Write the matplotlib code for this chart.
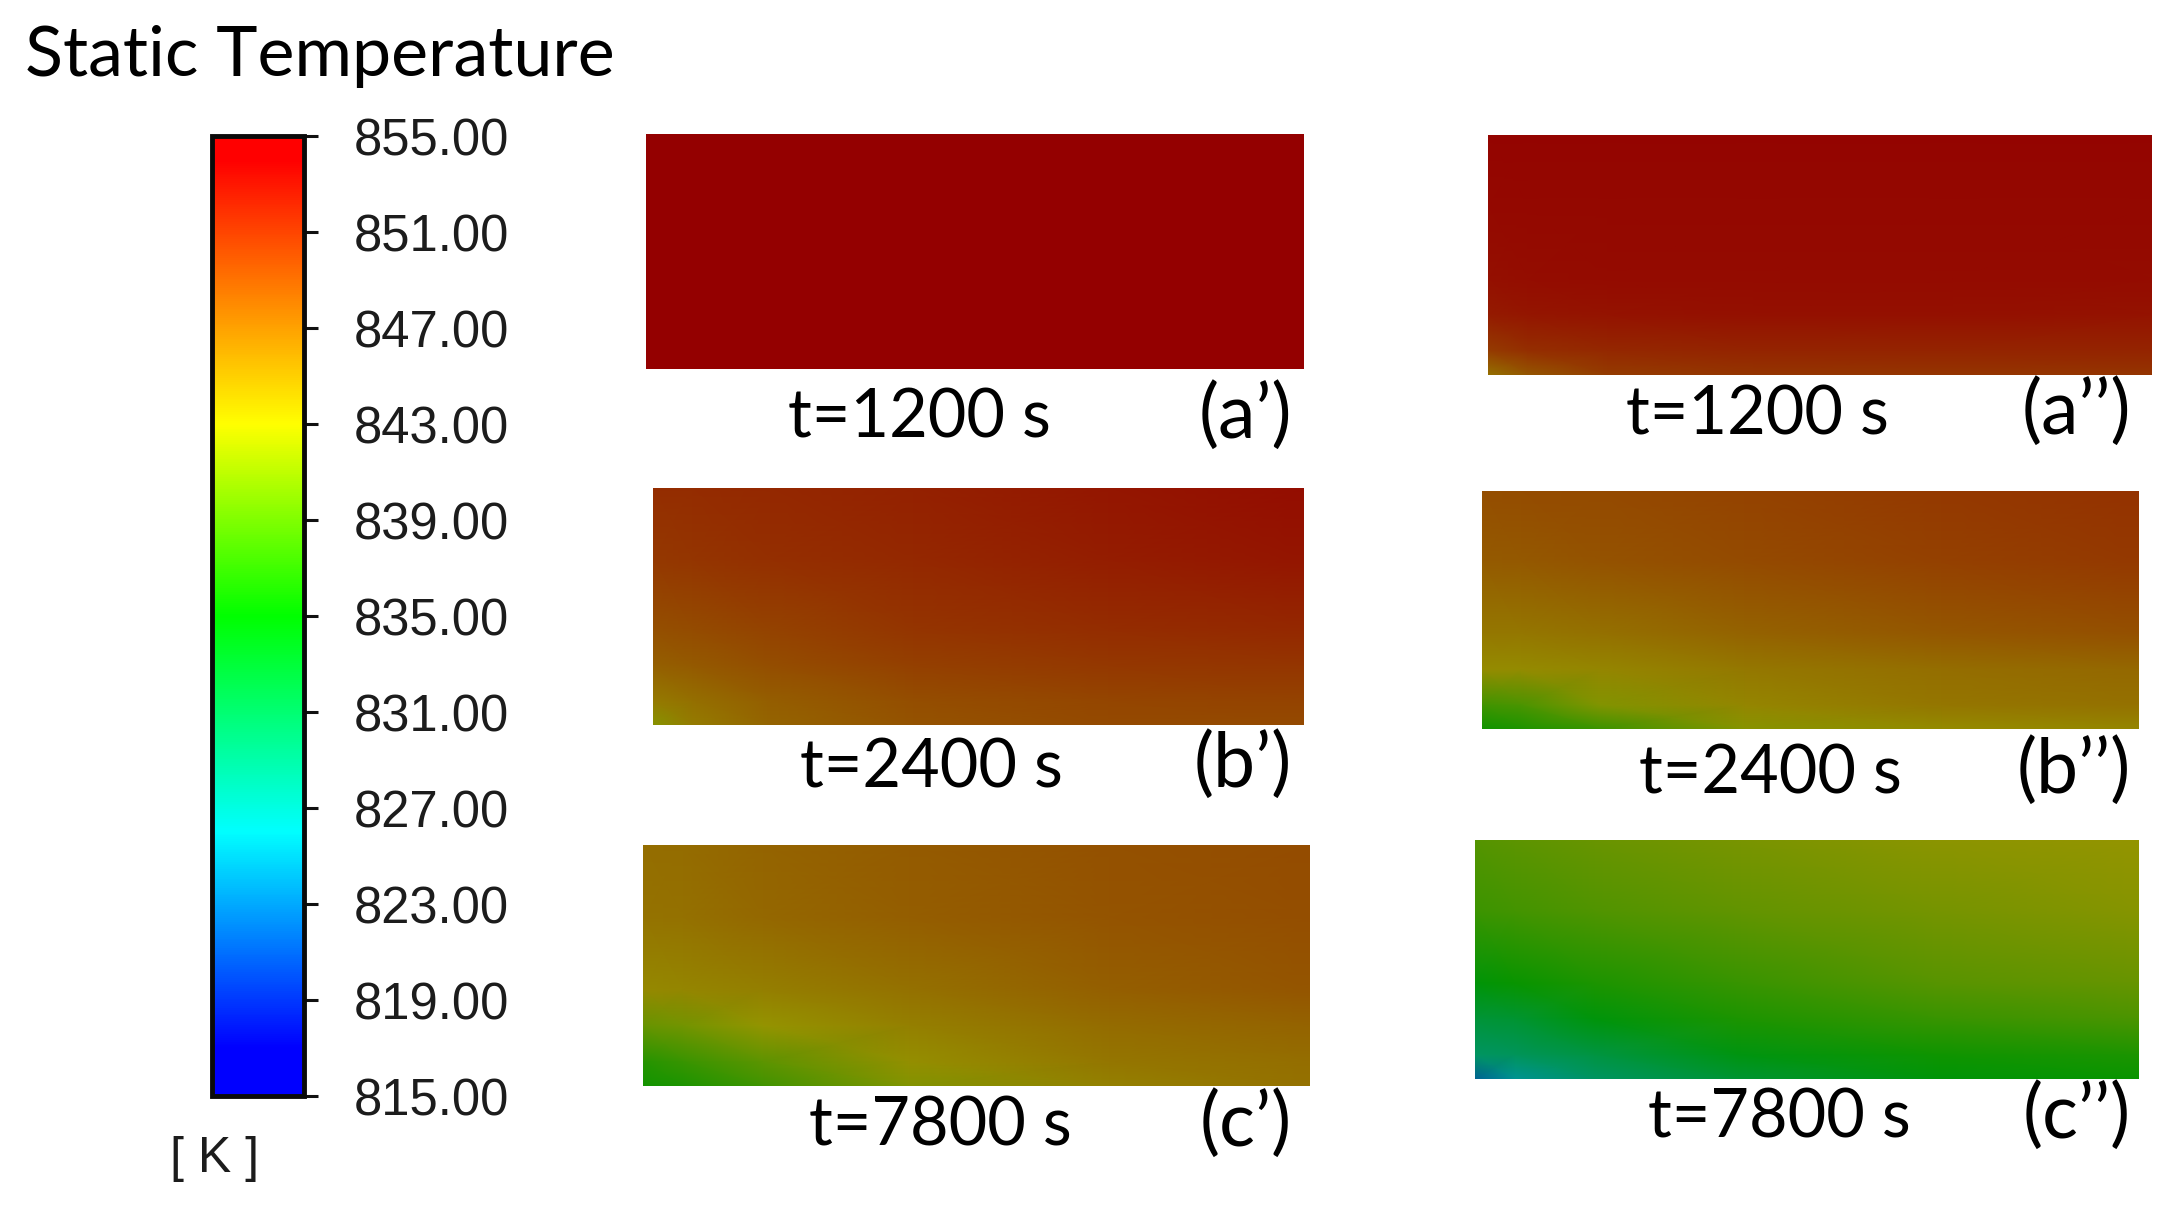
import numpy as np
import matplotlib
matplotlib.use("Agg")
import matplotlib.pyplot as plt
from matplotlib.colors import LinearSegmentedColormap, Normalize
from matplotlib.cm import ScalarMappable

W, H = 2178, 1213
T_MIN, T_MAX = 815.0, 855.0
TICKS = [855, 851, 847, 843, 839, 835, 831, 827, 823, 819, 815]

# control locations in each contour (fraction of width / height above the bottom edge)
X_FRAC = [0.0, 0.06, 0.18, 0.4, 0.7, 1.0]
Y_FRAC = [1.0, 0.7, 0.4, 0.25, 0.1, 0.0]

a1 = [[854.0, 854.0, 854.0, 854.0, 854.0, 854.0],
      [854.0, 854.0, 854.0, 854.0, 854.0, 854.0],
      [854.0, 854.0, 854.0, 854.0, 854.0, 854.0],
      [854.0, 854.0, 854.0, 854.0, 854.0, 854.0],
      [854.0, 854.0, 854.0, 854.0, 854.0, 854.0],
      [854.0, 854.0, 854.0, 854.0, 854.0, 854.0]]
a2 = [[853.6, 853.6, 853.6, 853.6, 853.6, 853.6],
      [853.3, 853.4, 853.4, 853.4, 853.4, 853.4],
      [852.8, 853.0, 853.2, 853.2, 853.2, 853.1],
      [852.0, 852.3, 852.5, 852.8, 852.8, 852.5],
      [849.5, 850.5, 851.0, 851.3, 851.3, 851.3],
      [845.5, 847.5, 849.5, 850.0, 850.0, 850.0]]
b1 = [[850.6, 850.7, 851.0, 851.5, 852.3, 853.0],
      [849.8, 850.0, 850.5, 851.0, 851.8, 852.4],
      [848.0, 848.3, 849.0, 850.0, 850.6, 851.0],
      [846.8, 847.3, 848.2, 849.2, 849.8, 850.0],
      [844.8, 845.7, 847.0, 848.2, 848.8, 849.0],
      [842.3, 844.7, 846.5, 847.8, 848.5, 848.5]]
b2 = [[848.2, 848.3, 848.5, 849.0, 849.7, 850.3],
      [847.2, 847.4, 847.8, 848.4, 849.1, 849.7],
      [845.0, 845.1, 845.6, 846.6, 847.5, 848.0],
      [843.6, 843.6, 844.0, 845.0, 845.8, 846.2],
      [838.5, 839.0, 842.0, 844.0, 845.2, 845.6],
      [835.8, 836.5, 838.2, 842.3, 843.6, 844.0]]
c1 = [[845.8, 846.0, 846.5, 847.2, 847.9, 848.3],
      [845.4, 845.6, 846.2, 847.0, 847.7, 848.2],
      [843.8, 844.0, 844.6, 845.6, 846.9, 847.6],
      [840.6, 841.2, 843.0, 844.5, 846.0, 846.6],
      [837.0, 838.0, 840.0, 843.3, 845.2, 845.8],
      [836.0, 836.5, 838.5, 842.0, 844.4, 845.6]]
c2 = [[839.6, 840.0, 840.7, 841.5, 842.5, 843.0],
      [838.2, 838.6, 839.3, 840.3, 841.4, 842.2],
      [834.5, 835.4, 836.5, 838.0, 839.7, 840.6],
      [831.5, 832.0, 834.3, 836.5, 838.0, 839.0],
      [829.0, 829.5, 831.0, 834.0, 835.8, 836.5],
      [823.0, 826.0, 829.0, 832.0, 834.5, 835.5]]

FIELDS = [a1, a2, b1, b2, c1, c2]
TIMES = ["t=1200 s", "t=1200 s", "t=2400 s", "t=2400 s", "t=7800 s", "t=7800 s"]
TAGS = ["(a\u2019)", "(a\u2019\u2019)", "(b\u2019)", "(b\u2019\u2019)", "(c\u2019)", "(c\u2019\u2019)"]

# layout in reference pixels: left, right, top, bottom
BOXES = [(646, 1304, 134, 369), (1488, 2152, 135, 375),
         (653, 1304, 488, 725), (1482, 2139, 491, 729),
         (643, 1310, 845, 1086), (1475, 2139, 840, 1079)]
TIME_POS = [(788, 438), (1626, 434), (800, 787), (1639, 793), (809, 1146), (1648, 1138)]
TAG_RIGHT = [(1292, 438), (2131, 434), (1292, 787), (2131, 793), (1292, 1146), (2131, 1138)]

# colour ramp of the legend
NODES = [815, 817, 826, 835, 843, 854, 855]
COLORS = ["#0000ff", "#0000ff", "#00ffff", "#00ff00", "#ffff00", "#ff0000", "#ff0000"]
SHADE = 0.58

norm = Normalize(T_MIN, T_MAX)
pos = [(n - T_MIN) / (T_MAX - T_MIN) for n in NODES]
cmap = LinearSegmentedColormap.from_list("ansys", list(zip(pos, COLORS)), N=512)
rgb = cmap(np.linspace(0, 1, 512))
rgb[:, :3] *= SHADE
dark = LinearSegmentedColormap.from_list("ansys_dark", rgb, N=512)

plt.rcParams["font.family"] = ["Lato", "DejaVu Sans"]
fig = plt.figure(figsize=(W / 100, H / 100), dpi=100, facecolor="white")


def box(l, r, t, b):
    return [l / W, 1 - b / H, (r - l) / W, (b - t) / H]


for field, bx, tm, tag, tp, gp in zip(FIELDS, BOXES, TIMES, TAGS, TIME_POS, TAG_RIGHT):
    ax = fig.add_axes(box(*bx))
    ax.pcolormesh(X_FRAC, Y_FRAC, np.array(field), shading="gouraud", cmap=dark, norm=norm)
    ax.set_xlim(0, 1)
    ax.set_ylim(0, 1)
    ax.axis("off")
    fig.text(tp[0] / W, 1 - tp[1] / H, tm, fontsize=48, ha="left", va="baseline", color="black")
    fig.text(gp[0] / W, 1 - gp[1] / H, tag, fontsize=54, ha="right", va="baseline", color="black")

fig.text(25 / W, 1 - 76 / H, "Static Temperature", fontsize=50.4, ha="left", va="baseline", color="black")

cax = fig.add_axes(box(212, 304, 136, 1096))
cb = fig.colorbar(ScalarMappable(norm=norm, cmap=cmap), cax=cax, ticks=TICKS)
cb.ax.set_yticklabels([f"{t:.2f}" for t in TICKS], fontfamily="Liberation Sans", fontsize=36.5, color="#1c1c1c")
cb.ax.tick_params(length=10, width=2.2, pad=26, color="#111111")
cb.outline.set_linewidth(3.5)
cb.outline.set_edgecolor("#0a0a0a")

fig.text(215 / W, 1 - 1159 / H, "[ K ]", fontfamily="Liberation Sans", fontsize=36,
         ha="center", va="center", color="#1c1c1c")

fig.savefig("out.png", dpi=100, facecolor="white")
